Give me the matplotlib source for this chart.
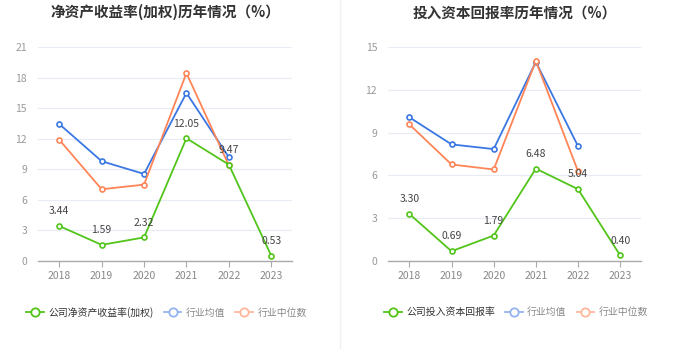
import matplotlib
matplotlib.use("Agg")
import matplotlib.pyplot as plt
from matplotlib.lines import Line2D

plt.rcParams['font.family'] = ['Noto Sans CJK SC', 'DejaVu Sans']

years = ["2018", "2019", "2020", "2021", "2022", "2023"]

# left chart: ROE (weighted)
roe_company = [3.44, 1.59, 2.32, 12.05, 9.47, 0.53]
roe_ind_mean = [13.45, 9.8, 8.55, 16.5, 10.2]
roe_ind_median = [11.9, 7.05, 7.5, 18.45, 9.4]

# right chart: ROIC
roic_company = [3.30, 0.69, 1.79, 6.48, 5.04, 0.40]
roic_ind_mean = [10.08, 8.18, 7.85, 13.96, 8.06]
roic_ind_median = [9.58, 6.77, 6.42, 14.03, 6.3]

GREEN = "#52c41a"
BLUE = "#3a77e3"
ORANGE = "#ff8557"
BLUE_L = "#94b4ef"
ORANGE_L = "#ffb79c"


def draw_panel(fig, rect, title, company, mean, median, ymax, legend_name, legend_x):
	ax = fig.add_axes(rect)
	xs = list(range(len(years)))
	ax.plot(xs[:len(mean)], mean, color=BLUE, lw=1.3, marker="o", ms=3.6,
		mfc="white", mec=BLUE, mew=1.2, zorder=3)
	ax.plot(xs[:len(median)], median, color=ORANGE, lw=1.3, marker="o", ms=3.6,
		mfc="white", mec=ORANGE, mew=1.2, zorder=3)
	ax.plot(xs, company, color=GREEN, lw=1.3, marker="o", ms=3.6,
		mfc="white", mec=GREEN, mew=1.2, zorder=4)
	for x, v in zip(xs, company):
		ax.annotate("%.2f" % v, (x, v), xytext=(0, 7), textcoords="offset points",
			ha="center", va="bottom", fontsize=7.5, color="#444444", zorder=5)

	ax.set_xlim(-0.5, len(years) - 0.5)
	ax.set_ylim(0, ymax)
	ax.set_yticks(list(range(0, ymax + 1, 3)))
	ax.set_xticks(xs)
	ax.set_xticklabels(years)
	ax.tick_params(axis="y", length=0, labelsize=7.5, labelcolor="#999999", pad=8)
	ax.tick_params(axis="x", length=4, color="#aaaaaa", labelsize=7.5,
		labelcolor="#888888", pad=3)
	ax.grid(axis="y", color="#e6ebf5", lw=0.8)
	ax.set_axisbelow(True)
	for s in ["top", "right", "left"]:
		ax.spines[s].set_visible(False)
	ax.spines["bottom"].set_color("#aaaaaa")
	ax.spines["bottom"].set_linewidth(1.0)

	cx = rect[0] + rect[2] / 2
	fig.text(cx, 0.965, title, ha="center", va="center", fontsize=10.5,
		fontweight="bold", color="#333333")

	handles = [
		Line2D([], [], color=GREEN, lw=1.3, marker="o", ms=6, mfc="white", mec=GREEN, mew=1.3),
		Line2D([], [], color=BLUE_L, lw=1.3, marker="o", ms=6, mfc="white", mec=BLUE_L, mew=1.3),
		Line2D([], [], color=ORANGE_L, lw=1.3, marker="o", ms=6, mfc="white", mec=ORANGE_L, mew=1.3),
	]
	leg = fig.legend(handles, [legend_name, "行业均值", "行业中位数"], loc="center",
		bbox_to_anchor=(legend_x, 0.105), ncol=3, frameon=False, fontsize=7.1,
		handlelength=1.8, handletextpad=0.45, columnspacing=1.0)
	for t, c in zip(leg.get_texts(), ["#333333", "#888888", "#888888"]):
		t.set_color(c)
	return ax


fig = plt.figure(figsize=(6.8, 3.49), dpi=100)
draw_panel(fig, [0.056, 0.252, 0.374, 0.613], "净资产收益率(加权)历年情况（%）",
	roe_company, roe_ind_mean, roe_ind_median, 21, "公司净资产收益率(加权)", 0.245)
draw_panel(fig, [0.571, 0.252, 0.372, 0.613], "投入资本回报率历年情况（%）",
	roic_company, roic_ind_mean, roic_ind_median, 15, "公司投入资本回报率", 0.759)

# faint divider between panels
fig.add_artist(Line2D([0.5, 0.5], [0.0, 1.0], transform=fig.transFigure,
	color="#f0f0f0", lw=1.0))

fig.savefig("out.png", dpi=100)
